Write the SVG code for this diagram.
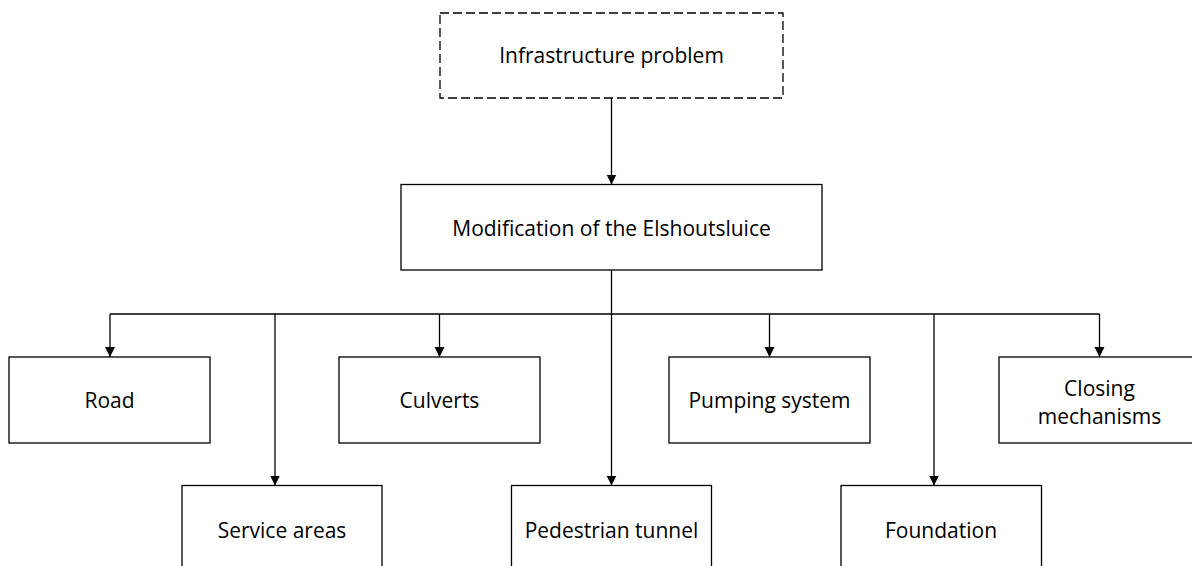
<svg xmlns="http://www.w3.org/2000/svg" width="1192" height="566" viewBox="0 0 1192 566">
  <style>
    .box { fill: #ffffff; stroke: #000000; stroke-width: 1.3; }
    .dash { stroke-dasharray: 9 4; }
    .lbl { font-family: "Open Sans", "Liberation Sans", sans-serif; font-size: 21px; fill: #000000; text-anchor: middle; }
    .conn { fill: none; stroke: #000000; stroke-width: 1.3; }
  </style>
  <defs>
    <marker id="arr" markerUnits="userSpaceOnUse" markerWidth="12" markerHeight="12" viewBox="0 0 12 12" refX="10" refY="5" orient="auto">
      <path d="M0,0 L10,5 L0,10 Z" fill="#000000"/>
    </marker>
  </defs>
  <rect width="1192" height="566" fill="#ffffff"/>

  <g id="connectors">
    <path class="conn" d="M611.5,98 V184.5" marker-end="url(#arr)"/>
    <path class="conn" d="M611.5,270 V485.5" marker-end="url(#arr)"/>
    <path class="conn" d="M110,314 H1099.5"/>
    <path class="conn" d="M110,314 V357" marker-end="url(#arr)"/>
    <path class="conn" d="M275,314 V485.5" marker-end="url(#arr)"/>
    <path class="conn" d="M439.5,314 V357" marker-end="url(#arr)"/>
    <path class="conn" d="M769.5,314 V357" marker-end="url(#arr)"/>
    <path class="conn" d="M934,314 V485.5" marker-end="url(#arr)"/>
    <path class="conn" d="M1099.5,314 V357" marker-end="url(#arr)"/>
  </g>

  <g id="node-infrastructure">
    <rect class="box dash" x="440" y="13" width="343" height="85"/>
    <text class="lbl" x="611.5" y="63">Infrastructure problem</text>
  </g>
  <g id="node-modification">
    <rect class="box" x="401" y="184.5" width="421" height="85.5"/>
    <text class="lbl" x="611.5" y="235.5">Modification of the Elshoutsluice</text>
  </g>
  <g id="node-road">
    <rect class="box" x="9" y="357" width="201" height="86"/>
    <text class="lbl" x="109.5" y="407.5">Road</text>
  </g>
  <g id="node-culverts">
    <rect class="box" x="339" y="357" width="201" height="86"/>
    <text class="lbl" x="439.5" y="407.5">Culverts</text>
  </g>
  <g id="node-pumping">
    <rect class="box" x="669" y="357" width="201" height="86"/>
    <text class="lbl" x="769.5" y="407.5">Pumping system</text>
  </g>
  <g id="node-closing">
    <rect class="box" x="999" y="357" width="201" height="86"/>
    <text class="lbl" x="1099.5" y="395.5">Closing</text>
    <text class="lbl" x="1099.5" y="423.5">mechanisms</text>
  </g>
  <g id="node-service">
    <rect class="box" x="182" y="485.5" width="200" height="86"/>
    <text class="lbl" x="282" y="538">Service areas</text>
  </g>
  <g id="node-pedestrian">
    <rect class="box" x="511.5" y="485.5" width="200" height="86"/>
    <text class="lbl" x="611.5" y="538">Pedestrian tunnel</text>
  </g>
  <g id="node-foundation">
    <rect class="box" x="841" y="485.5" width="200.5" height="86"/>
    <text class="lbl" x="941" y="538">Foundation</text>
  </g>
</svg>
